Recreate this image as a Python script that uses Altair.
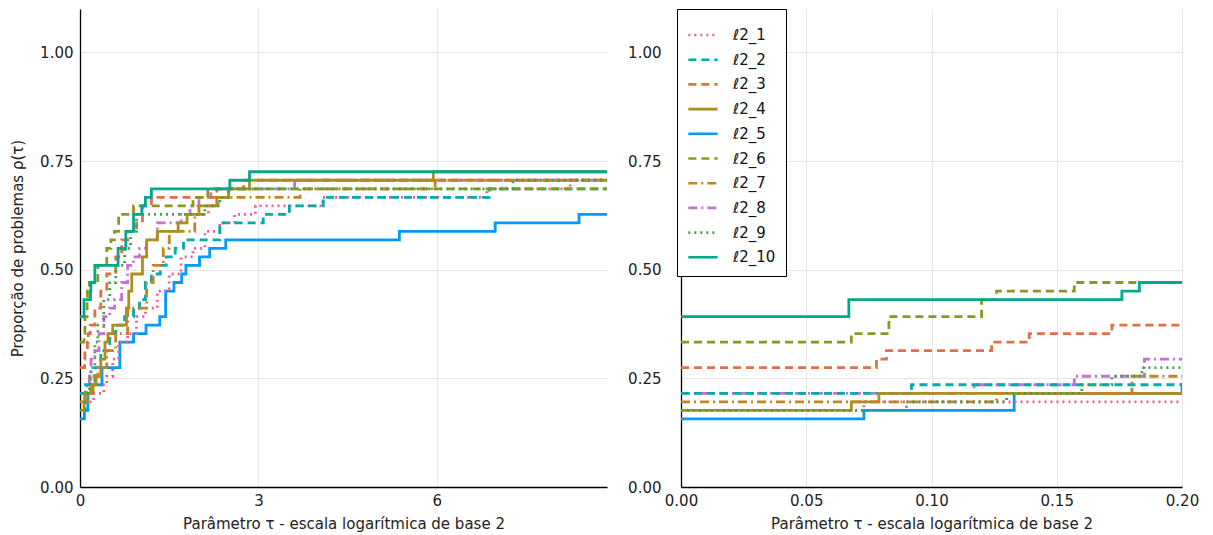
import altair as alt
import pandas as pd

N = 51
X_MAX = 8.86

series_names = ["ℓ2_1", "ℓ2_2", "ℓ2_3", "ℓ2_4", "ℓ2_5", "ℓ2_6", "ℓ2_7", "ℓ2_8", "ℓ2_9", "ℓ2_10"]
colors = ["#ED5E93", "#00AAAE", "#E36F47", "#AC8E18", "#009AFA", "#8E971D", "#C68225", "#C371D2", "#3EA44E", "#00A98D"]
dashes = [[2, 4], [8, 5], [8, 5], [1, 0], [1, 0], [8, 5], [9, 4, 2, 4], [9, 4, 2, 4], [2, 4], [1, 0]]
# drawing order (first = bottom)
draw_order = ["ℓ2_5", "ℓ2_8", "ℓ2_1", "ℓ2_2", "ℓ2_3", "ℓ2_4", "ℓ2_6", "ℓ2_7", "ℓ2_9", "ℓ2_10"]

# step positions (tau) and number of solved problems (out of 51)
s1_tau = [0, 0.073, 0.23, 0.4, 0.45, 0.55, 0.65, 0.8, 0.95, 1.1, 1.3, 1.5, 1.7, 1.9, 2.1, 2.35, 2.6, 2.95, 4.08, 6.84, 8.24]
s1_k = [9, 10, 11, 12, 13, 15, 17, 18, 20, 21, 23, 25, 27, 28, 30, 31, 32, 33, 34, 35, 36]

s2_tau = [0, 0.092, 0.25, 0.35, 0.5, 0.6, 0.75, 0.9, 1.0, 1.1, 1.2, 1.35, 1.45, 1.6, 1.74, 2.35, 3.08, 3.52, 4.09, 6.88]
s2_k = [11, 12, 14, 16, 18, 19, 20, 21, 22, 24, 25, 26, 27, 28, 29, 31, 32, 33, 34, 35]

s3_tau = [0, 0.078, 0.082, 0.124, 0.139, 0.172, 0.25, 0.35, 0.45, 0.6, 0.7, 0.8, 0.95, 1.05, 1.2, 2.3, 2.75]
s3_k = [14, 15, 16, 17, 18, 19, 21, 23, 25, 27, 29, 30, 31, 33, 34, 35, 36]

s4_tau = [0, 0.068, 0.079, 0.22, 0.27, 0.35, 0.42, 0.47, 0.55, 0.78, 0.82, 0.87, 1.05, 1.12, 1.3, 1.65, 1.8, 2.0, 2.3, 2.5, 2.85, 5.94]
s4_k = [9, 10, 11, 12, 13, 15, 17, 18, 19, 21, 23, 25, 27, 29, 30, 31, 32, 33, 34, 35, 36, 37]

s5_tau = [0, 0.073, 0.133, 0.2, 0.37, 0.67, 0.9, 1.11, 1.34, 1.44, 1.58, 1.71, 1.78, 2.01, 2.18, 2.45, 5.37, 6.98, 8.39]
s5_k = [8, 9, 11, 12, 14, 17, 18, 19, 20, 23, 24, 25, 26, 27, 28, 29, 30, 31, 32]

s6_tau = [0, 0.068, 0.083, 0.12, 0.126, 0.157, 0.3, 0.45, 0.52, 0.58, 0.65, 0.9, 1.9, 2.15]
s6_k = [17, 18, 20, 22, 23, 24, 26, 28, 29, 30, 32, 33, 34, 35]

s7_tau = [0, 0.126, 0.18, 0.3, 0.45, 0.6, 0.8, 1.12, 1.23, 1.4, 1.5, 1.93, 2.16, 2.33, 3.7, 5.97]
s7_k = [10, 11, 13, 14, 16, 18, 21, 24, 26, 28, 30, 32, 33, 34, 35, 36]

s8_tau = [0, 0.117, 0.157, 0.185, 0.25, 0.32, 0.4, 0.5, 0.58, 0.7, 0.8, 0.9, 1.0, 1.12, 1.3, 1.7, 1.85, 2.0, 2.2, 3.61]
s8_k = [11, 12, 13, 15, 16, 18, 20, 21, 22, 24, 26, 27, 28, 29, 31, 32, 33, 34, 35, 36]

s9_tau = [0, 0.09, 0.13, 0.16, 0.172, 0.184, 0.25, 0.3, 0.4, 0.5, 0.6, 0.75, 0.85, 0.95, 2.1, 2.35, 2.5, 7.28]
s9_k = [9, 10, 11, 12, 13, 14, 17, 19, 22, 24, 26, 28, 30, 32, 33, 34, 35, 36]

s10_tau = [0, 0.067, 0.176, 0.183, 0.25, 0.64, 0.77, 0.9, 1.04, 1.1, 1.2, 2.52, 2.85]
s10_k = [20, 22, 23, 24, 26, 28, 30, 32, 33, 34, 35, 36, 37]

all_tau = dict(zip(series_names, [s1_tau, s2_tau, s3_tau, s4_tau, s5_tau, s6_tau, s7_tau, s8_tau, s9_tau, s10_tau]))
all_k = dict(zip(series_names, [s1_k, s2_k, s3_k, s4_k, s5_k, s6_k, s7_k, s8_k, s9_k, s10_k]))

rows = []
for name in draw_order:
    taus, ks = all_tau[name], all_k[name]
    for t, k in zip(taus, ks):
        rows.append({"serie": name, "tau": t, "rho": k / N})
    rows.append({"serie": name, "tau": X_MAX, "rho": ks[-1] / N})
df = pd.DataFrame(rows)

FONT = "DejaVu Sans"
y_ticks = [0, 0.25, 0.5, 0.75, 1.0]

color_scale = alt.Scale(domain=series_names, range=colors)
dash_scale = alt.Scale(domain=series_names, range=dashes)


def panel(xdomain, xticks, xfmt, ytitle, label_pad, show_legend):
    legend = None
    if show_legend:
        legend = alt.Legend(
            title=None, orient="none", legendX=-4, legendY=0,
            fillColor="white", strokeColor="black", padding=10,
            symbolType="stroke", symbolSize=860, symbolStrokeWidth=2.6,
            labelFont=FONT, labelFontSize=15, labelColor="#111",
            rowPadding=0.7, labelOffset=14,
            labelExpr="datum.label + '\u00a0\u00a0\u00a0'",
        )
    return alt.Chart(df).mark_line(interpolate="step-after", strokeWidth=2.8, clip=True).encode(
        x=alt.X("tau:Q", scale=alt.Scale(domain=xdomain, nice=False, zero=False),
                axis=alt.Axis(values=xticks, format=xfmt, labelFlush=False,
                              title="Parâmetro τ - escala logarítmica de base 2")),
        y=alt.Y("rho:Q", scale=alt.Scale(domain=[0, 1.1], nice=False),
                axis=alt.Axis(values=y_ticks, format=".2f", title=ytitle, labelPadding=label_pad)),
        color=alt.Color("serie:N", scale=color_scale, legend=legend),
        strokeDash=alt.StrokeDash("serie:N", scale=dash_scale, legend=legend),
        order=alt.Order("tau:Q"),
    )


left = panel([0, X_MAX], [0, 3, 6], "d", "Proporção de problemas ρ(τ)", 7, False).properties(width=527, height=478)
right = panel([0, 0.2], [0, 0.05, 0.1, 0.15, 0.2], ".2f", None, 20, True).properties(width=501, height=478)

chart = alt.hconcat(left, right, spacing=20).resolve_legend(
    color="independent", strokeDash="independent"
).properties(
    padding={"left": 10, "top": 8, "right": 5, "bottom": 5}
).configure_view(stroke=None).configure_axis(
    labelFont=FONT, titleFont=FONT, labelFontSize=15, titleFontSize=15,
    labelColor="#222", titleColor="#222", titleFontWeight="normal",
    domainColor="black", domainWidth=1.3, ticks=False,
    gridColor="#e6e6e6", gridWidth=1,
).configure_axisY(titlePadding=14).configure_axisX(titlePadding=8, labelPadding=6)

chart.save("out.html", embed_options={"renderer": "svg", "actions": False})
